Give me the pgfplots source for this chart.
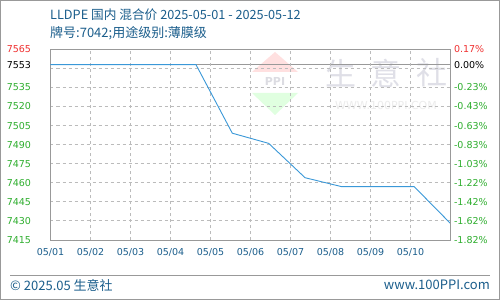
\documentclass[border=0pt]{standalone}
\usepackage{pgfplots}
\pgfplotsset{compat=1.18}
\usepackage{fontspec}
\setmainfont{DejaVu Sans}
\newfontfamily\cjk{Noto Sans CJK SC}
\definecolor{tgreen}{HTML}{2EAE2E}
\definecolor{tred}{HTML}{F03030}
\definecolor{tblue}{HTML}{1B5E8C}
\definecolor{lblue}{HTML}{3A98D8}
\definecolor{framegray}{HTML}{999999}
\definecolor{gridgray}{HTML}{BBBBBB}
\begin{document}
\begin{tikzpicture}[x=1pt,y=1pt]
% outer frame
\fill[white] (0,0) rectangle (500,300);
\draw[framegray, line width=1pt] (0.5,0.5) rectangle (499.5,299.5);
% watermark
\fill[red!12] (275,248) -- (252,228) -- (298,228) -- cycle;
\fill[green!12] (252,207) -- (298,207) -- (275,185) -- cycle;
\node[text=blue!10!gray!25, font=\fontsize{11}{11}\selectfont\bfseries\rmfamily] at (275,219) {PPI};
\node[text=blue!15!gray!22, font=\cjk\fontsize{31}{31}\selectfont] at (341,227) {生};
\node[text=blue!15!gray!22, font=\cjk\fontsize{31}{31}\selectfont] at (386,227) {意};
\node[text=blue!15!gray!22, font=\cjk\fontsize{31}{31}\selectfont] at (432,227) {社};
\node[text=gray!15, font=\fontsize{11}{11}\selectfont] at (386,195) {WWW.100PPI.COM};
% titles
\node[anchor=west, text=tblue, inner sep=0pt, font=\cjk\fontsize{12.7}{12.7}\selectfont] at (50,285) {LLDPE 国内 混合价 2025-05-01 - 2025-05-12};
\node[anchor=west, text=tblue, inner sep=0pt, font=\cjk\fontsize{13}{13}\selectfont] at (50,267) {牌号:7042;用途级别:薄膜级};
% footer
\draw[framegray, line width=0.8pt] (10,25) -- (490,25);
\node[anchor=west, text=tblue, inner sep=0pt, font=\cjk\fontsize{13}{13}\selectfont] at (10,15) {© 2025.05 生意社};
\node[anchor=east, text=tblue, inner sep=0pt, font=\cjk\fontsize{13}{13}\selectfont] at (490,15) {www.100PPI.com};
\begin{axis}[
  at={(50.5pt,60pt)}, anchor=south west,
  width=400pt, height=190.7pt, scale only axis,
  xmin=0, xmax=10, ymin=7415, ymax=7565,
  axis line style={draw=framegray, line width=1pt},
  xtick={0,1,2,3,4,5,6,7,8,9},
  major tick length=0pt,
  xticklabels={05/01,05/02,05/03,05/04,05/05,05/06,05/07,05/08,05/09,05/10},
  xticklabel style={text=tblue, font=\fontsize{9.5}{9.5}\selectfont, yshift=-5pt},
  ytick={7415,7430,7445,7460,7475,7490,7505,7520,7535,7550},
  yticklabels={7415,7430,7445,7460,7475,7490,7505,7520,7535,{}},
  yticklabel style={text=tgreen, font=\fontsize{9.5}{9.5}\selectfont, xshift=-16pt},
  extra y ticks={7553,7565},
  extra y tick labels={\color{black}7553,\color{tred}7565},
  extra y tick style={major grid style={solid, draw=framegray, line width=1pt}},
  ymajorgrids=true,
  major grid style={draw=gridgray, line width=0.9pt, dash pattern=on 3pt off 3pt},
  clip=false,
]
\pgfplotsinvokeforeach{1,2,3,4,5,6,7,8,9}{
  \draw[gridgray, line width=0.9pt, dash pattern=on 3pt off 3pt] (axis cs:#1,7415) -- (axis cs:#1,7565);
}
\addplot[lblue, line width=0.9pt] coordinates {
(0,7553) (0.909,7553) (1.818,7553) (2.727,7553) (3.636,7553)
(4.545,7499) (5.455,7491) (6.364,7464) (7.273,7457)
(8.182,7457) (9.091,7457) (10,7428)
};
\end{axis}
\begin{axis}[
  at={(50.5pt,60pt)}, anchor=south west,
  width=400pt, height=190.7pt, scale only axis,
  xmin=0, xmax=10, ymin=7415, ymax=7565,
  axis x line=none, axis y line*=right,
  axis line style={draw=framegray, line width=1pt, -},
  major tick length=0pt,
  ytick={7415,7430,7445,7460,7475,7490,7505,7520,7535,7550},
  yticklabels={-1.82\%,-1.62\%,-1.42\%,-1.22\%,-1.03\%,-0.83\%,-0.63\%,-0.43\%,-0.23\%,{}},
  yticklabel style={text=tgreen, font=\fontsize{9.5}{9.5}\selectfont, anchor=west},
  extra y ticks={7553,7565},
  extra y tick labels={\color{black}0.00\%,\color{tred}0.17\%},
]
\end{axis}
\end{tikzpicture}
\end{document}
